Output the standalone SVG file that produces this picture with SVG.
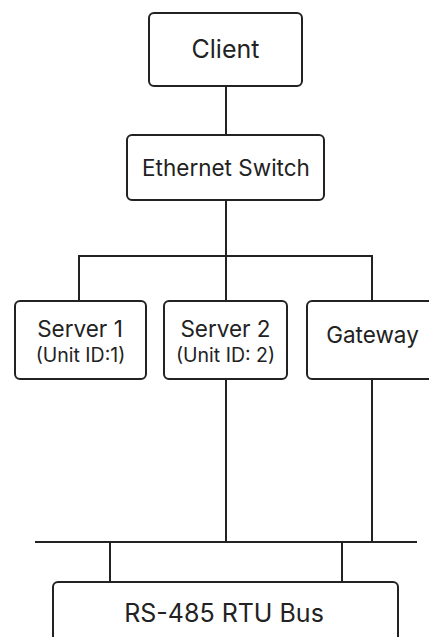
<svg xmlns="http://www.w3.org/2000/svg" width="429" height="637" viewBox="0 0 429 637">
  <style>
    .box { fill: #ffffff; stroke: #222222; stroke-width: 2; }
    .wire { fill: none; stroke: #222222; stroke-width: 2; }
    .lbl { font-family: Inter, "Noto Sans", "Liberation Sans", sans-serif; fill: #222222; text-anchor: middle; }
    .big { font-size: 25px; }
    .mid { font-size: 22.5px; }
    .small { font-size: 19.5px; }
    .bus { font-size: 25px; }
  </style>
  <rect width="429" height="637" fill="#ffffff"/>

  <!-- connectors -->
  <g id="connectors">
    <line class="wire" x1="226" y1="86" x2="226" y2="135"/>
    <line class="wire" x1="226" y1="200" x2="226" y2="301"/>
    <polyline class="wire" points="79,301 79,256 372,256 372,301"/>
    <line class="wire" x1="226" y1="379" x2="226" y2="542"/>
    <line class="wire" x1="372" y1="379" x2="372" y2="542"/>
    <line class="wire" x1="35" y1="542" x2="417" y2="542"/>
    <line class="wire" x1="110" y1="542" x2="110" y2="582"/>
    <line class="wire" x1="342" y1="542" x2="342" y2="582"/>
  </g>

  <g id="client">
    <rect class="box" x="149" y="13" width="153" height="73" rx="5"/>
    <text class="lbl big" x="225.5" y="58">Client</text>
  </g>

  <g id="ethernet-switch">
    <rect class="box" x="127" y="135" width="197" height="65" rx="5"/>
    <text class="lbl mid" x="226" y="176">Ethernet Switch</text>
  </g>

  <g id="server-1">
    <rect class="box" x="15" y="301" width="131" height="78" rx="5"/>
    <text class="lbl mid" x="80" y="337">Server 1</text>
    <text class="lbl small" x="80.5" y="362">(Unit ID:1)</text>
  </g>

  <g id="server-2">
    <rect class="box" x="164" y="301" width="123" height="78" rx="5"/>
    <text class="lbl mid" x="225.5" y="337">Server 2</text>
    <text class="lbl small" x="225.5" y="362">(Unit ID: 2)</text>
  </g>

  <g id="gateway">
    <rect class="box" x="307" y="301" width="140" height="78" rx="5"/>
    <text class="lbl mid" x="372.5" y="343">Gateway</text>
  </g>

  <g id="rs485-bus">
    <rect class="box" x="53" y="582" width="345" height="70" rx="5"/>
    <text class="lbl bus" x="224" y="622">RS-485 RTU Bus</text>
  </g>
</svg>
